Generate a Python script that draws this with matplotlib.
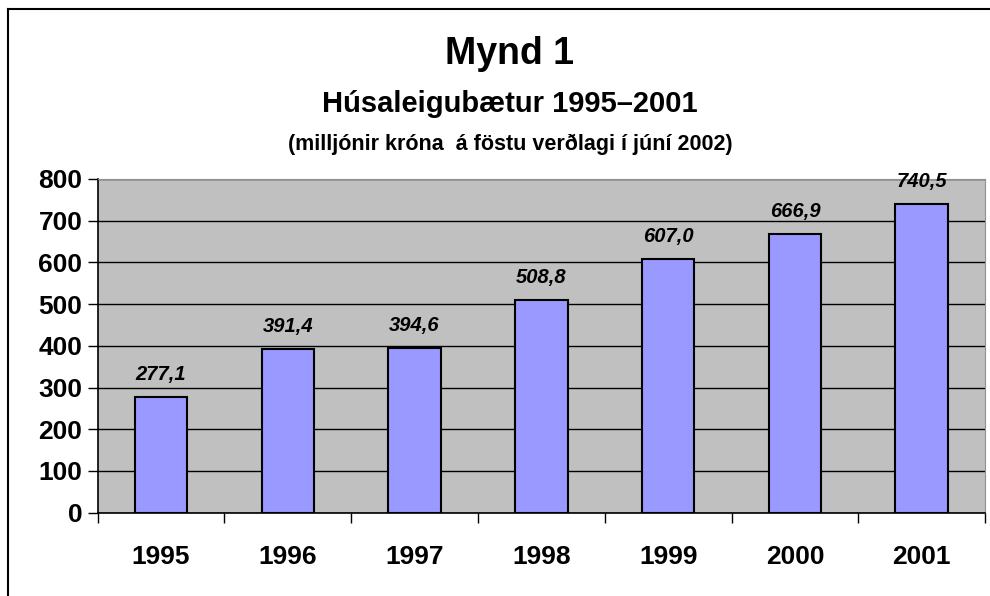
import matplotlib
matplotlib.use("Agg")
import matplotlib.pyplot as plt
from matplotlib.lines import Line2D

plt.rcParams['font.family'] = ['Liberation Sans', 'DejaVu Sans']

# data
years = ['1995', '1996', '1997', '1998', '1999', '2000', '2001']
values = [277.1, 391.4, 394.6, 508.8, 607.0, 666.9, 740.5]
y_ticks = [0, 100, 200, 300, 400, 500, 600, 700, 800]

fig = plt.figure(figsize=(9.9, 5.96), dpi=100)
ax = fig.add_axes([0.0987, 0.1398, 0.8963, 0.5599])
ax.set_facecolor('#C0C0C0')

x = list(range(len(years)))
ax.bar(x, values, width=0.414, color='#9999FF', edgecolor='black', linewidth=1.5, zorder=3)

for xi, v in zip(x, values):
    label = f'{v:.1f}'.replace('.', ',')
    ax.annotate(label, (xi, v), xytext=(0, 9.5), textcoords='offset points',
                ha='center', va='bottom', fontsize=14.5, fontweight='bold',
                fontstyle='italic')

ax.set_xlim(-0.5, len(years) - 0.5)
ax.set_ylim(0, 800)
ax.set_yticks(y_ticks)
ax.set_yticklabels([str(t) for t in y_ticks], fontsize=19, fontweight='bold')
ax.yaxis.grid(True, color='black', linewidth=1, zorder=1)
ax.set_axisbelow(True)

ax.set_xticks(x)
ax.set_xticklabels(years, fontsize=19, fontweight='bold')
ax.set_xticks([i - 0.5 for i in range(len(years) + 1)], minor=True)
ax.tick_params(axis='x', which='major', length=0, pad=23)
ax.tick_params(axis='x', which='minor', length=7, width=1, direction='out')
ax.tick_params(axis='y', length=7, width=1, direction='out', pad=4)

ax.spines['left'].set_color('black')
ax.spines['bottom'].set_color('black')
ax.spines['left'].set_linewidth(1.2)
ax.spines['bottom'].set_linewidth(1.2)
ax.spines['top'].set_color('#909090')
ax.spines['right'].set_color('#909090')

fig.text(0.515, 0.909, 'Mynd 1', ha='center', va='center', fontsize=27, fontweight='bold')
fig.text(0.515, 0.8255, 'Húsaleigubætur 1995–2001', ha='center', va='center',
         fontsize=21, fontweight='bold')
fig.text(0.515, 0.757, '(milljónir króna  á föstu verðlagi í júní 2002)', ha='center',
         va='center', fontsize=15.5, fontweight='bold')

# outer frame
fig.add_artist(Line2D([8 / 990, 8 / 990], [0, 1 - 9 / 596], color='black', linewidth=1.5))
fig.add_artist(Line2D([8 / 990, 1], [1 - 9 / 596, 1 - 9 / 596], color='black', linewidth=1.5))

fig.savefig('out.png', dpi=100)
